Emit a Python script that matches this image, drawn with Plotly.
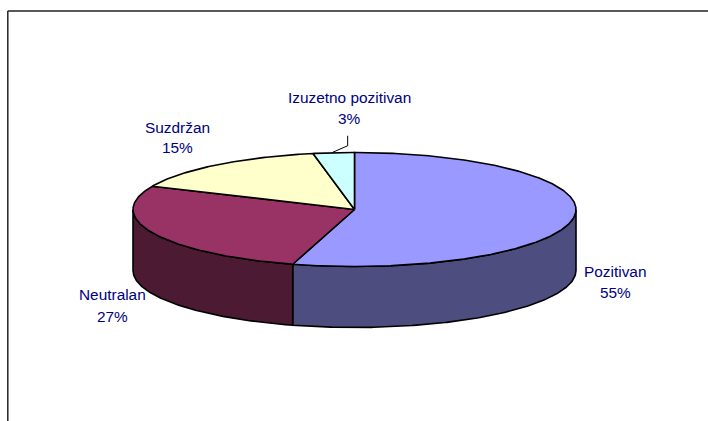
import numpy as np
import plotly.graph_objects as go

labels = ["Pozitivan", "Neutralan", "Suzdržan", "Izuzetno pozitivan"]
# slice sizes, the printed labels are rounded
values = [54.5, 27.2, 15.3, 3.0]
pct_labels = ["55%", "27%", "15%", "3%"]
top_colors = ["#9999FF", "#993366", "#FFFFCC", "#CCFFFF"]
side_colors = ["#4D4D80", "#4D1A33", "#808066", "#668080"]
# label centres in page pixels: name line, then percent line
name_pos = [(615, 271), (112, 294), (177, 127), (349.5, 97)]
pct_pos = [(615, 292), (112, 316), (177, 147), (349, 118)]

CX, CY = 354.5, 209.5
RX, RY = 221.5, 57
DEPTH = 61
LINE = dict(color="#000000", width=1.6)
FONT = dict(family="Liberation Sans", size=15.4, color="#000080")


def rim(a0, a1, drop=0):
    """Points on the ellipse, angles in degrees clockwise from 12 o'clock"""
    n = max(2, int(abs(a1 - a0) * 2))
    a = np.radians(np.linspace(a0, a1, n))
    return CX + RX * np.sin(a), CY - RY * np.cos(a) + drop


fig = go.Figure()

edges = np.cumsum([0] + values) / sum(values) * 360

# walls first, only the front half of the disc shows them
for i in range(len(values)):
    a0, a1 = max(edges[i], 90), min(edges[i + 1], 270)
    if a0 >= a1:
        continue
    x0, y0 = rim(a0, a1)
    x1, y1 = rim(a1, a0, DEPTH)
    fig.add_trace(go.Scatter(
        x=np.concatenate([x0, x1, x0[:1]]),
        y=np.concatenate([y0, y1, y0[:1]]),
        mode="lines", fill="toself", fillcolor=side_colors[i],
        line=LINE, hoverinfo="skip", showlegend=False
    ))

# top faces
for i in range(len(values)):
    x0, y0 = rim(edges[i], edges[i + 1])
    fig.add_trace(go.Scatter(
        x=np.concatenate([[CX], x0, [CX]]),
        y=np.concatenate([[CY], y0, [CY]]),
        mode="lines", fill="toself", fillcolor=top_colors[i],
        line=LINE, name=labels[i], hoverinfo="name", showlegend=False
    ))

# leader line for the small slice
mid = np.radians((edges[3] + edges[4]) / 2)
lx, ly = CX + RX * np.sin(mid) - 2, CY - RY * np.cos(mid)
fig.add_trace(go.Scatter(
    x=[lx, lx + 16, lx + 16],
    y=[ly, ly - 7, ly - 17],
    mode="lines", line=dict(color="#000000", width=1),
    hoverinfo="skip", showlegend=False
))

# chart frame, clipped by the window on two sides
fig.add_shape(type="line", x0=7.8, x1=7.8, y0=11, y1=421,
              line=dict(color="#222222", width=1.5))
fig.add_shape(type="line", x0=7.8, x1=708, y0=11, y1=11,
              line=dict(color="#222222", width=1.5))

for name, pct, p0, p1 in zip(labels, pct_labels, name_pos, pct_pos):
    fig.add_annotation(x=p0[0], y=p0[1], text=name, showarrow=False, font=FONT)
    fig.add_annotation(x=p1[0], y=p1[1], text=pct, showarrow=False, font=FONT)

fig.update_layout(
    width=708, height=421,
    margin=dict(l=0, r=0, t=0, b=0),
    paper_bgcolor="white", plot_bgcolor="white",
    xaxis=dict(range=[0, 708], visible=False),
    yaxis=dict(range=[421, 0], visible=False),
    showlegend=False
)

fig.write_html(
    "out.html",
    config=dict(displayModeBar=False),
    post_script="document.body.style.margin='0';document.body.style.overflow='hidden';"
)
